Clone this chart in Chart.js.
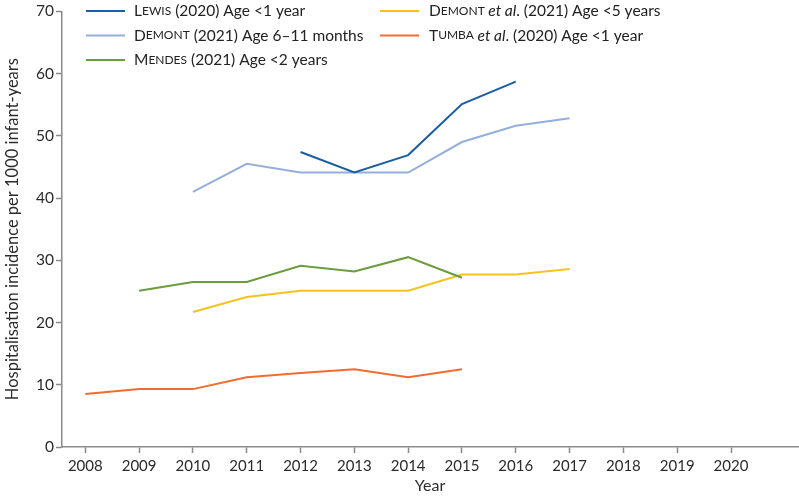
<!DOCTYPE html>
<html>
<head>
<meta charset="utf-8">
<script src="https://cdn.jsdelivr.net/npm/chart.js@4.4.1/dist/chart.umd.min.js"></script>
<style>
html,body{margin:0;padding:0;background:#fff;}
#wrap{width:799px;height:497px;}
</style>
</head>
<body>
<div id="wrap"><canvas id="c" width="799" height="497"></canvas></div>
<script>
// ---- data ----
const years = [2008, 2009, 2010, 2011, 2012, 2013, 2014, 2015, 2016, 2017, 2018, 2019, 2020];
const lewis      = [null, null, null, null, 47.4, 44.1, 46.9, 55.1, 58.7, null, null, null, null];
const demont611  = [null, null, 41.0, 45.5, 44.1, 44.1, 44.1, 49.0, 51.6, 52.8, null, null, null];
const mendes     = [null, 25.1, 26.5, 26.5, 29.1, 28.2, 30.5, 27.2, null, null, null, null, null];
const demontEtAl = [null, null, 21.7, 24.1, 25.1, 25.1, 25.1, 27.7, 27.7, 28.6, null, null, null];
const tumba      = [8.5, 9.3, 9.3, 11.2, 11.9, 12.5, 11.2, 12.5, null, null, null, null, null];
const yTicks = [0, 10, 20, 30, 40, 50, 60, 70];

const seriesNames  = ['Lewis', 'Demont', 'Mendes', 'Demont', 'Tumba'];
const seriesEtAl   = [false, false, false, true, true];
const seriesRest   = [' (2020) Age <1 year', ' (2021) Age 6\u201311 months', ' (2021) Age <2 years', ' (2021) Age <5 years', ' (2020) Age <1 year'];
const seriesColors = ['#1b5ea3', '#94afdc', '#6b9c3e', '#f9c11c', '#f26c30'];
const seriesValues = [lewis, demont611, mendes, demontEtAl, tumba];

const FONT = 'Lato, "Open Sans", sans-serif';
const TXT = '#2b2b2b';
const AX = '#8a8a8a';

function toPoints(arr) {
  const out = [];
  arr.forEach((v, i) => { if (v !== null) out.push({x: years[i], y: v}); });
  return out;
}

const datasets = seriesValues.map((vals, i) => ({
  label: seriesNames[i] + (seriesEtAl[i] ? ' et al.' : '') + seriesRest[i],
  data: toPoints(vals),
  borderColor: seriesColors[i],
  backgroundColor: seriesColors[i],
  borderWidth: 2,
  pointRadius: 0,
  tension: 0,
  fill: false
}));

function drawSmallCaps(ctx, word, x, y, size) {
  ctx.font = size + 'px ' + FONT;
  ctx.fillText(word[0].toUpperCase(), x, y);
  x += ctx.measureText(word[0].toUpperCase()).width;
  const small = Math.round(size * 0.8);
  ctx.font = small + 'px ' + FONT;
  const rest = word.slice(1).toUpperCase();
  ctx.fillText(rest, x, y);
  return x + ctx.measureText(rest).width;
}

const legendPlugin = {
  id: 'customLegend',
  afterDraw(chart) {
    const ctx = chart.ctx;
    const cols = [{lx: 86, tx: 134}, {lx: 380, tx: 429}];
    const layout = [[0, 0], [0, 1], [0, 2], [1, 0], [1, 1]];
    const rowY = [11, 35.5, 60];
    const size = 15.5;
    ctx.save();
    ctx.textBaseline = 'middle';
    ctx.textAlign = 'left';
    chart.data.datasets.forEach((ds, i) => {
      const c = cols[layout[i][0]];
      const y = rowY[layout[i][1]];
      ctx.strokeStyle = ds.borderColor;
      ctx.lineWidth = 2;
      ctx.beginPath();
      ctx.moveTo(c.lx, y);
      ctx.lineTo(c.lx + 39, y);
      ctx.stroke();
      ctx.fillStyle = '#222';
      let x = drawSmallCaps(ctx, seriesNames[i], c.tx, y, size);
      if (seriesEtAl[i]) {
        ctx.font = 'italic ' + size + 'px ' + FONT;
        ctx.fillText(' et al', x, y);
        x += ctx.measureText(' et al').width;
        ctx.font = size + 'px ' + FONT;
        ctx.fillText('.', x, y);
        x += ctx.measureText('.').width;
      }
      ctx.font = size + 'px ' + FONT;
      ctx.fillText(seriesRest[i], x, y);
    });
    ctx.restore();
  }
};

new Chart(document.getElementById('c'), {
  type: 'line',
  data: { datasets },
  plugins: [legendPlugin],
  options: {
    responsive: false,
    animation: false,
    layout: { padding: { top: 10, right: 1, left: 0, bottom: 0 } },
    plugins: { legend: { display: false }, tooltip: { enabled: false } },
    scales: {
      x: {
        type: 'linear',
        min: 2007.567,
        max: 2021.245,
        afterBuildTicks: s => { s.ticks = years.map(v => ({ value: v })); },
        afterFit: s => { s.height = 50; },
        ticks: {
          autoSkip: false,
          maxRotation: 0,
          padding: 4,
          color: TXT,
          font: { family: FONT, size: 15 },
          callback: v => String(v)
        },
        grid: { display: true, drawOnChartArea: false, drawTicks: true, tickLength: 6, color: AX, tickWidth: 1.5 },
        border: { display: true, color: AX, width: 1.5 },
        title: { display: true, text: 'Year', color: TXT, font: { family: FONT, size: 16 }, padding: { top: 0, bottom: 2 } }
      },
      y: {
        min: 0,
        max: 70,
        afterBuildTicks: s => { s.ticks = yTicks.map(v => ({ value: v })); },
        afterFit: s => { s.width = 62; },
        ticks: {
          padding: 2,
          color: TXT,
          font: { family: FONT, size: 15.5 }
        },
        grid: { display: true, drawOnChartArea: false, drawTicks: true, tickLength: 6, color: AX, tickWidth: 1.5 },
        border: { display: true, color: AX, width: 1.5 },
        title: { display: true, text: 'Hospitalisation incidence per 1000 infant-years', color: TXT, font: { family: FONT, size: 16.5 }, padding: { top: 3, bottom: 0 } }
      }
    }
  }
});
</script>
</body>
</html>
